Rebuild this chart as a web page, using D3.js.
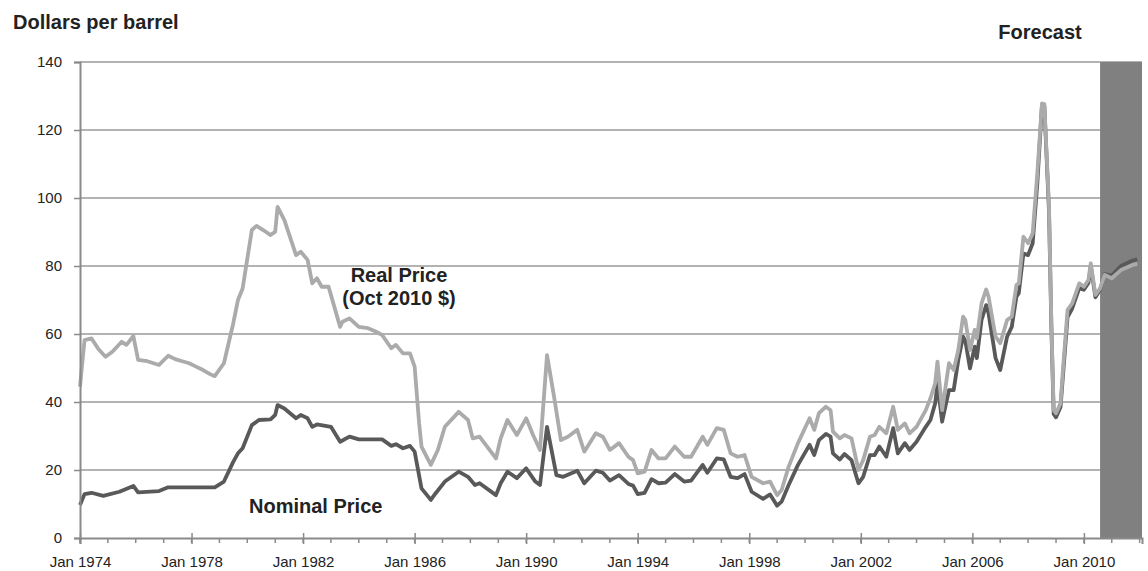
<!DOCTYPE html>
<html>
<head>
<meta charset="utf-8">
<script src="https://cdn.jsdelivr.net/npm/d3@7"></script>
<style>
  body { margin: 0; background: #fff; }
  text { font-family: "Liberation Sans", Arial, sans-serif; }
</style>
</head>
<body>
<div id="chart"></div>
<script>
// real price (Oct 2010 dollars)
var realDates = ["1974-01","1974-03","1974-06","1974-09","1974-12","1975-03","1975-07","1975-09","1975-12","1976-02",
  "1976-06","1976-11","1977-03","1977-06","1977-09","1977-12","1978-03","1978-06","1978-09","1978-11",
  "1979-03","1979-07","1979-09","1979-11","1980-03","1980-05","1980-08","1980-11","1981-01","1981-02",
  "1981-05","1981-10","1981-12","1982-03","1982-05","1982-07","1982-09","1982-12","1983-05","1983-06",
  "1983-09","1984-01","1984-05","1984-08","1984-11","1985-03","1985-05","1985-08","1985-11","1986-01",
  "1986-03","1986-04","1986-08","1986-11","1987-02","1987-08","1987-12","1988-02","1988-05","1988-12",
  "1989-02","1989-05","1989-09","1990-01","1990-04","1990-07","1990-10","1991-01","1991-04","1991-07",
  "1991-11","1992-02","1992-07","1992-10","1993-01","1993-05","1993-09","1993-11","1994-01","1994-04",
  "1994-07","1994-10","1995-01","1995-05","1995-09","1995-12","1996-05","1996-07","1996-11","1997-02",
  "1997-05","1997-08","1997-11","1998-02","1998-07","1998-10","1999-01","1999-03","1999-06","1999-10",
  "2000-03","2000-05","2000-07","2000-10","2000-12","2001-01","2001-04","2001-06","2001-09","2001-12",
  "2002-02","2002-05","2002-07","2002-09","2002-12","2003-03","2003-05","2003-08","2003-10","2004-01",
  "2004-05","2004-07","2004-09","2004-10","2004-12","2005-03","2005-05","2005-07","2005-09","2005-10",
  "2005-12","2006-02","2006-03","2006-05","2006-07","2006-08","2006-11","2007-01","2007-04","2007-06",
  "2007-08","2007-09","2007-11","2008-01","2008-03","2008-05","2008-07","2008-08","2008-10","2008-11",
  "2008-12","2009-01","2009-03","2009-04","2009-06","2009-08","2009-11","2010-01","2010-03","2010-04",
  "2010-06","2010-08","2010-10","2011-01","2011-05","2011-10","2011-12"];
var realPrice = [44.5,58.2,58.7,55.5,53.3,54.8,57.7,56.8,59.4,52.4,
  52.0,50.9,53.6,52.6,52.0,51.4,50.4,49.4,48.2,47.6,
  51.4,63.1,70.0,73.4,90.6,91.8,90.5,89.1,90.1,97.4,
  93.5,83.2,84.2,81.8,74.9,76.4,73.9,73.9,62.1,63.6,
  64.6,62.1,61.7,60.8,59.7,55.8,56.8,54.3,54.3,50.4,
  33.7,26.9,21.5,25.9,32.7,37.1,34.7,29.3,29.8,23.4,
  29.3,34.7,30.3,35.2,30.3,25.9,53.8,41.6,28.8,29.8,
  31.8,25.4,30.8,29.8,25.9,27.9,23.9,22.9,19.0,19.5,
  25.9,23.4,23.4,26.9,23.9,23.9,29.8,27.4,32.3,31.8,
  24.9,23.9,24.4,18.0,16.1,16.6,12.6,14.1,21.0,27.9,
  35.2,31.8,36.7,38.6,37.6,31.3,29.3,30.3,29.3,20.0,
  22.9,29.8,30.3,32.7,30.8,38.6,31.8,33.7,30.8,32.7,
  37.6,41.1,45.5,51.9,37.6,51.4,49.4,55.3,65.1,64.1,
  55.3,61.2,58.7,69.0,73.1,71.0,59.2,57.3,64.1,65.1,
  74.4,74.9,88.6,86.7,89.6,107.3,127.8,127.6,97.4,63.1,
  37.6,36.7,39.6,49.4,67.1,69.0,74.9,73.9,75.9,80.8,
  71.5,73.4,77.4,76.4,78.8,80.3,80.6];

// nominal price
var nominalDates = ["1974-01","1974-03","1974-06","1974-11","1975-06","1975-12","1976-02","1976-11","1977-03","1978-11",
  "1979-03","1979-07","1979-09","1979-11","1980-03","1980-06","1980-11","1981-01","1981-02","1981-05",
  "1981-10","1981-12","1982-03","1982-05","1982-07","1983-01","1983-05","1983-09","1984-01","1984-11",
  "1985-03","1985-05","1985-08","1985-11","1986-01","1986-04","1986-08","1986-10","1987-02","1987-08",
  "1987-12","1988-03","1988-05","1988-12","1989-02","1989-05","1989-09","1990-01","1990-05","1990-07",
  "1990-10","1991-02","1991-05","1991-11","1992-02","1992-07","1992-10","1993-01","1993-05","1993-09",
  "1993-11","1994-01","1994-04","1994-07","1994-10","1995-01","1995-05","1995-09","1995-12","1996-05",
  "1996-07","1996-11","1997-02","1997-05","1997-08","1997-11","1998-02","1998-07","1998-10","1999-01",
  "1999-03","1999-06","1999-10","2000-03","2000-05","2000-07","2000-10","2000-12","2001-01","2001-04",
  "2001-06","2001-09","2001-12","2002-02","2002-05","2002-07","2002-09","2002-12","2003-03","2003-05",
  "2003-08","2003-10","2004-01","2004-05","2004-07","2004-09","2004-10","2004-12","2005-03","2005-05",
  "2005-07","2005-09","2005-10","2005-12","2006-02","2006-03","2006-05","2006-07","2006-08","2006-11",
  "2007-01","2007-04","2007-06","2007-08","2007-09","2007-11","2008-01","2008-03","2008-05","2008-07",
  "2008-08","2008-10","2008-11","2008-12","2009-01","2009-03","2009-04","2009-06","2009-08","2009-11",
  "2010-01","2010-03","2010-04","2010-06","2010-08","2010-10","2011-01","2011-05","2011-10","2011-12"];
var nominalPrice = [9.7,12.9,13.3,12.4,13.6,15.3,13.4,13.8,14.9,14.9,
  16.6,22.4,24.9,26.4,33.2,34.7,34.9,36.2,39.1,38.1,
  35.2,36.2,35.2,32.7,33.4,32.7,28.3,29.8,29.0,29.0,
  27.1,27.6,26.4,27.1,25.4,14.6,11.2,13.1,16.6,19.5,
  18.0,15.6,16.1,12.6,16.1,19.5,17.6,20.5,16.6,15.6,
  32.7,18.5,18.0,19.8,16.1,19.8,19.2,16.9,18.5,15.9,
  15.4,12.9,13.3,17.3,16.1,16.3,18.8,16.6,16.9,21.5,
  19.2,23.4,23.1,18.0,17.6,18.8,13.6,11.5,12.8,9.5,
  10.7,15.6,21.5,27.4,24.4,28.8,30.6,29.8,24.9,23.1,
  24.7,22.9,16.1,18.0,24.4,24.4,26.9,23.9,32.3,24.9,
  27.9,25.9,28.3,32.7,34.7,39.6,45.5,34.2,43.5,43.5,
  52.4,59.2,58.0,49.9,56.3,52.9,64.1,68.5,66.1,52.9,
  49.4,59.2,62.1,71.0,72.0,83.7,83.2,86.7,104.3,127.4,
  127.0,96.0,62.0,36.5,35.5,38.5,47.5,65.0,67.5,73.5,
  73.0,75.0,80.0,70.8,73.0,77.6,77.2,80.0,81.6,82.0];

var yTicks = [0, 20, 40, 60, 80, 100, 120, 140];
var xLabelYears = [1974, 1978, 1982, 1986, 1990, 1994, 1998, 2002, 2006, 2010];
var forecastStart = "2010-08";

var svgWidth = 1148;
var svgHeight = 571;

var margin = { top: 62, right: 6, bottom: 33, left: 80 };
var chartWidth = svgWidth - margin.left - margin.right;
var chartHeight = svgHeight - margin.top - margin.bottom;

var parseMonth = d3.timeParse("%Y-%m");

var realData = realDates.map(function(d, i) { return { date: parseMonth(d), value: realPrice[i] }; });
var nominalData = nominalDates.map(function(d, i) { return { date: parseMonth(d), value: nominalPrice[i] }; });

var svg = d3.select("#chart")
  .append("svg")
  .attr("width", svgWidth)
  .attr("height", svgHeight);

var chartGroup = svg.append("g")
  .attr("transform", `translate(${margin.left}, ${margin.top})`);

// scales
var xScale = d3.scaleTime()
  .domain([new Date(1974, 0, 1), new Date(2012, 1, 1)])
  .range([0, chartWidth]);

var yScale = d3.scaleLinear()
  .domain([0, 140])
  .range([chartHeight, 0]);

// horizontal gridlines
chartGroup.selectAll(".grid")
  .data(yTicks.filter(d => d > 0))
  .enter()
  .append("line")
  .attr("class", "grid")
  .attr("x1", 0)
  .attr("x2", chartWidth)
  .attr("y1", d => yScale(d))
  .attr("y2", d => yScale(d))
  .attr("stroke", "#9a9a9a")
  .attr("stroke-width", 1.5);

// forecast band
chartGroup.append("rect")
  .attr("x", xScale(parseMonth(forecastStart)))
  .attr("y", 0)
  .attr("width", chartWidth - xScale(parseMonth(forecastStart)))
  .attr("height", chartHeight)
  .attr("fill", "#808080");

// lines
var line = d3.line()
  .x(d => xScale(d.date))
  .y(d => yScale(d.value));

chartGroup.append("path")
  .datum(nominalData)
  .attr("d", line)
  .attr("fill", "none")
  .attr("stroke", "#595959")
  .attr("stroke-width", 3.8)
  .attr("stroke-linejoin", "round");

chartGroup.append("path")
  .datum(realData)
  .attr("d", line)
  .attr("fill", "none")
  .attr("stroke", "#ababab")
  .attr("stroke-width", 3.8)
  .attr("stroke-linejoin", "round");

// y axis
var yAxis = d3.axisLeft(yScale)
  .tickValues(yTicks)
  .tickSize(6)
  .tickPadding(12);

var yAxisG = chartGroup.append("g").call(yAxis);
yAxisG.select(".domain").attr("stroke", "#8a8a8a").attr("stroke-width", 2);
yAxisG.selectAll(".tick line").attr("stroke", "#8a8a8a").attr("stroke-width", 1.5);
yAxisG.selectAll("text").attr("font-size", 15).attr("fill", "#222");

// x axis, yearly minor ticks and labelled major ticks
var minorYears = d3.range(1974, 2013);
chartGroup.selectAll(".minor")
  .data(minorYears)
  .enter()
  .append("line")
  .attr("class", "minor")
  .attr("x1", d => xScale(new Date(d, 0, 1)))
  .attr("x2", d => xScale(new Date(d, 0, 1)))
  .attr("y1", chartHeight)
  .attr("y2", chartHeight + 5)
  .attr("stroke", "#8a8a8a")
  .attr("stroke-width", 1.5);

var xAxis = d3.axisBottom(xScale)
  .tickValues(xLabelYears.map(d => new Date(d, 0, 1)))
  .tickFormat(d3.timeFormat("Jan %Y"))
  .tickSizeOuter(0)
  .tickSize(6)
  .tickPadding(12);

var xAxisG = chartGroup.append("g")
  .attr("transform", `translate(0, ${chartHeight})`)
  .call(xAxis);
xAxisG.select(".domain").attr("stroke", "#8a8a8a").attr("stroke-width", 2);
xAxisG.selectAll(".tick line").attr("y1", -5).attr("stroke", "#8a8a8a").attr("stroke-width", 1.5);
xAxisG.selectAll("text").attr("font-size", 15).attr("fill", "#222");

// titles and series labels
svg.append("text")
  .attr("x", 13)
  .attr("y", 29)
  .attr("font-size", 20)
  .attr("font-weight", "bold")
  .attr("fill", "#222")
  .text("Dollars per barrel");

svg.append("text")
  .attr("x", 1040)
  .attr("y", 39)
  .attr("text-anchor", "middle")
  .attr("font-size", 20)
  .attr("font-weight", "bold")
  .attr("fill", "#222")
  .text("Forecast");

svg.append("text")
  .attr("x", 399)
  .attr("y", 282)
  .attr("text-anchor", "middle")
  .attr("font-size", 20)
  .attr("font-weight", "bold")
  .attr("fill", "#222")
  .text("Real Price");

svg.append("text")
  .attr("x", 399)
  .attr("y", 305)
  .attr("text-anchor", "middle")
  .attr("font-size", 20)
  .attr("font-weight", "bold")
  .attr("fill", "#222")
  .text("(Oct 2010 $)");

svg.append("text")
  .attr("x", 249)
  .attr("y", 513)
  .attr("font-size", 20)
  .attr("font-weight", "bold")
  .attr("fill", "#222")
  .text("Nominal Price");
</script>
</body>
</html>
